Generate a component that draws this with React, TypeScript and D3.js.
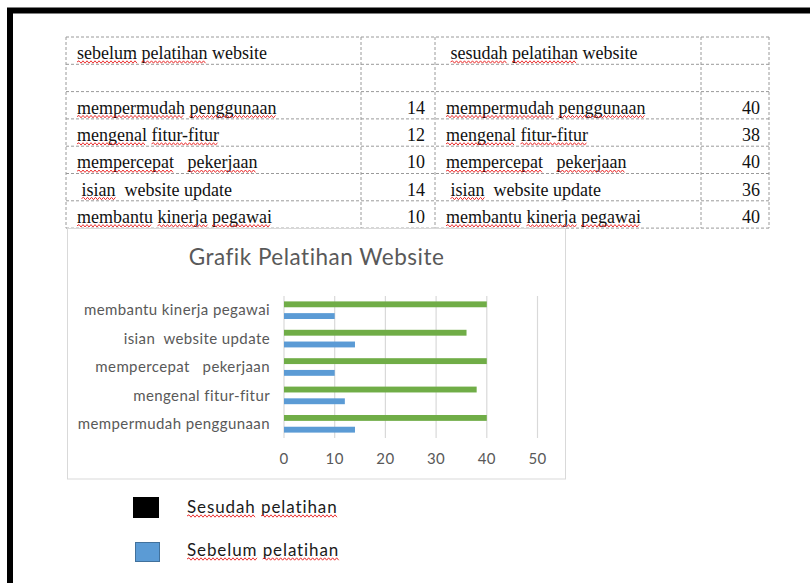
import { useEffect, useRef } from "react";
import * as d3 from "d3";

const categories = [
  "mempermudah penggunaan",
  "mengenal fitur-fitur",
  "mempercepat   pekerjaan",
  "isian  website update",
  "membantu kinerja pegawai",
];
const tableLabels = [
  "mempermudah penggunaan",
  "mengenal fitur-fitur",
  "mempercepat   pekerjaan",
  " isian  website update",
  "membantu kinerja pegawai",
];
const sebelum = [14, 12, 10, 14, 10];
const sesudah = [40, 38, 40, 36, 40];
const xTicks = [0, 10, 20, 30, 40, 50];
const seriesNames = ["sesudah", "sebelum"];
const seriesColors = { sesudah: "#70ad47", sebelum: "#5b9bd5" };
const headerLeft = "sebelum pelatihan website";
const headerRight = " sesudah pelatihan website";
const legendLabels = ["Sesudah pelatihan", "Sebelum pelatihan"];
const misspelled = [
  "sebelum", "sesudah", "pelatihan", "mempermudah", "penggunaan", "mengenal",
  "fitur-fitur", "mempercepat", "pekerjaan", "isian", "membantu", "kinerja",
  "pegawai", "Sesudah", "Sebelum",
];

const W = 810;
const H = 583;

// table grid
const colX = [66, 361, 435, 701, 769];
const rowTop = 37;
const rowH = 27.3;
const nRows = 7;

// chart box
const box = { x: 67.5, y: 228.5, w: 498, h: 250.5 };
const plot = { left: 284, right: 537.5, top: 296, bottom: 438 };

const sans = "Lato, 'Open Sans', sans-serif";
const serif = "'Liberation Serif', 'DejaVu Serif', serif";

export default function App() {
  const svgRef = useRef<SVGSVGElement>(null);

  const x = d3.scaleLinear().domain([0, 50]).range([plot.left, plot.right]);
  const y = d3
    .scaleBand()
    .domain([...categories].reverse())
    .range([plot.top, plot.bottom])
    .paddingInner(0.38)
    .paddingOuter(0.19);
  const inner = d3
    .scaleBand()
    .domain(seriesNames)
    .range([0, y.bandwidth()])
    .paddingInner(0.5);

  const rowY = d3.range(nRows + 1).map((i) => rowTop + i * rowH);

  // red wavy spell-check underlines
  useEffect(() => {
    const svg = d3.select(svgRef.current);
    const g = svg.select("g.spell");
    g.selectAll("*").remove();
    svg.selectAll<SVGTextElement, unknown>("text[data-spell]").each(function () {
      const el = this;
      const str = el.textContent || "";
      const base = +(el.getAttribute("y") || 0) + 3;
      const re = /\S+/g;
      let m: RegExpExecArray | null;
      while ((m = re.exec(str))) {
        if (!misspelled.includes(m[0])) continue;
        const x0 = el.getStartPositionOfChar(m.index).x;
        const x1 = el.getEndPositionOfChar(m.index + m[0].length - 1).x;
        let d = `M${x0},${base}`;
        let up = true;
        for (let xx = x0 + 2; xx <= x1; xx += 2) {
          d += `L${xx},${base + (up ? -1.2 : 1.2)}`;
          up = !up;
        }
        g.append("path")
          .attr("d", d)
          .attr("fill", "none")
          .attr("stroke", "#e81c1c")
          .attr("stroke-width", 0.9);
      }
    });
  }, []);

  const tableText = (t: string, tx: number, ty: number, anchor = "start", spell = true) => (
    <text
      x={tx}
      y={ty}
      textAnchor={anchor}
      fontFamily={serif}
      fontSize={18}
      fill="#111"
      style={{ whiteSpace: "pre" }}
      data-spell={spell ? "1" : undefined}
    >
      {t}
    </text>
  );

  return (
    <svg
      ref={svgRef}
      width={W}
      height={H}
      style={{ position: "absolute", left: 0, top: 0, background: "#fff" }}
    >
      <rect width={W} height={H} fill="#fff" />
      {/* page frame */}
      <path d={`M10,${H} V10.5 H${W}`} fill="none" stroke="#000" strokeWidth={6} />

      {/* table */}
      <g stroke="#9a9a9a" strokeWidth={1} strokeDasharray="3,2" fill="none">
        {rowY.map((ry, i) => (
          <line key={"r" + i} x1={colX[0]} x2={colX[4]} y1={ry} y2={ry} />
        ))}
        {colX.map((cx, i) => (
          <line key={"c" + i} x1={cx} x2={cx} y1={rowY[0]} y2={rowY[nRows]} />
        ))}
      </g>
      {tableText(headerLeft, colX[0] + 11, rowY[0] + 22)}
      {tableText(headerRight, colX[2] + 11, rowY[0] + 22)}
      {tableLabels.map((lab, i) => (
        <g key={"t" + i}>
          {tableText(lab, colX[0] + 11, rowY[i + 2] + 22)}
          {tableText(String(sebelum[i]), colX[2] - 10, rowY[i + 2] + 22, "end", false)}
          {tableText(lab, colX[2] + 11, rowY[i + 2] + 22)}
          {tableText(String(sesudah[i]), colX[4] - 9, rowY[i + 2] + 22, "end", false)}
        </g>
      ))}

      {/* chart */}
      <rect x={box.x} y={box.y} width={box.w} height={box.h} fill="#fff" stroke="#d9d9d9" />
      <text
        x={box.x + box.w / 2}
        y={265}
        textAnchor="middle"
        fontFamily={sans}
        fontSize={22.5}
        letterSpacing={0.5}
        fill="#595959"
      >
        Grafik Pelatihan Website
      </text>
      <g stroke="#d9d9d9" strokeWidth={1.2}>
        {xTicks.map((t) => (
          <line key={t} x1={x(t)} x2={x(t)} y1={plot.top} y2={plot.bottom} />
        ))}
      </g>
      {categories.map((c, i) => (
        <g key={c} transform={`translate(0,${y(c)})`}>
          <rect
            x={x(0)}
            y={inner("sesudah")}
            width={x(sesudah[i]) - x(0)}
            height={inner.bandwidth()}
            fill={seriesColors.sesudah}
          />
          <rect
            x={x(0)}
            y={inner("sebelum")}
            width={x(sebelum[i]) - x(0)}
            height={inner.bandwidth()}
            fill={seriesColors.sebelum}
          />
          <text
            x={270}
            y={y.bandwidth() / 2}
            dy="0.35em"
            textAnchor="end"
            fontFamily={sans}
            fontSize={15}
            letterSpacing={0.4}
            fill="#595959"
            style={{ whiteSpace: "pre" }}
          >
            {c}
          </text>
        </g>
      ))}
      {xTicks.map((t) => (
        <text
          key={"x" + t}
          x={x(t)}
          y={464}
          textAnchor="middle"
          fontFamily={sans}
          fontSize={15}
          letterSpacing={0.4}
          fill="#595959"
        >
          {t}
        </text>
      ))}

      {/* legend */}
      <rect x={133} y={497} width={26} height={21} fill="#000" />
      <rect x={135.5} y={542.5} width={24} height={19} fill="#5b9bd5" stroke="#41719c" />
      {legendLabels.map((l, i) => (
        <text
          key={l}
          x={187}
          y={513 + i * 43}
          fontFamily={sans}
          fontSize={17}
          letterSpacing={0.9}
          fill="#1a1a1a"
          data-spell="1"
        >
          {l}
        </text>
      ))}
      <g className="spell" />
    </svg>
  );
}
